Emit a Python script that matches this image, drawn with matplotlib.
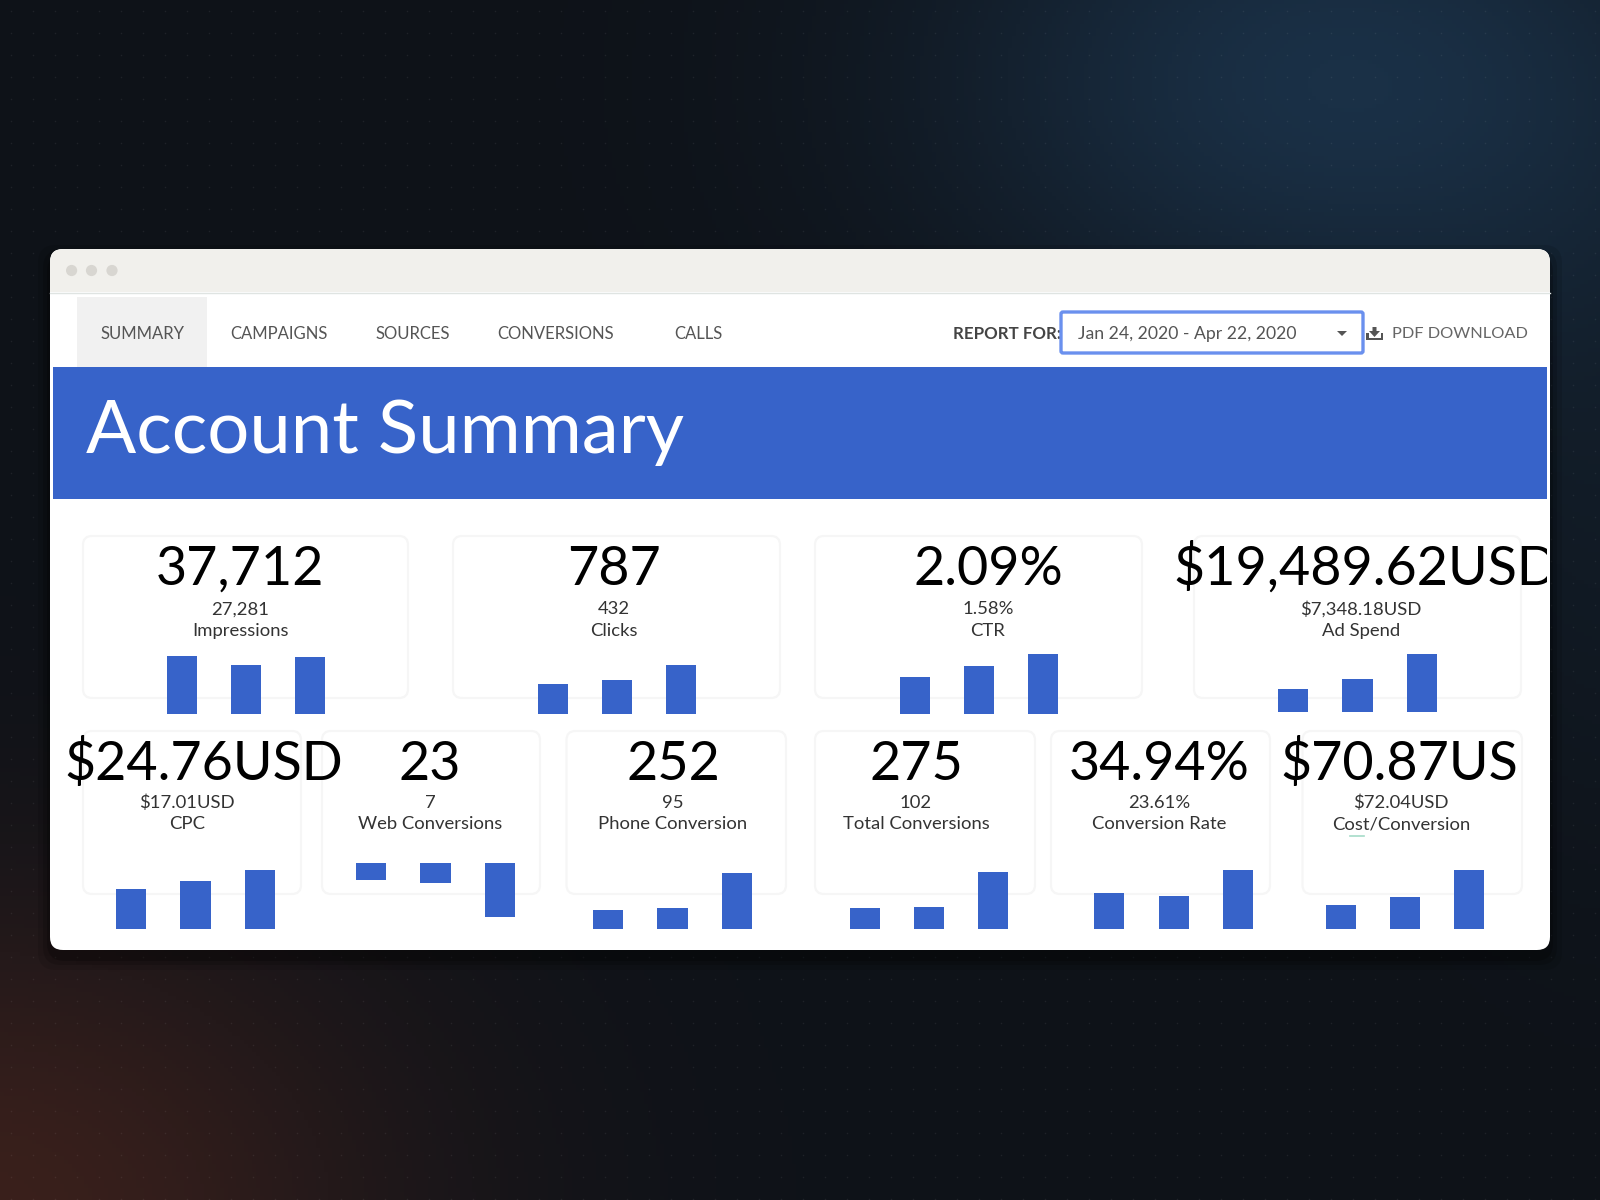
import numpy as np
import matplotlib
matplotlib.use('Agg')
import matplotlib.pyplot as plt
from matplotlib.patches import Rectangle, FancyBboxPatch, Circle, Polygon

plt.rcParams['font.family'] = ['Lato', 'DejaVu Sans']

W, H = 1600, 1200
BLUE = '#3763c9'

# KPI values, row by row
big_values = ['37,712', '787', '2.09%', '$19,489.62USD',
              '$24.76USD', '23', '252', '275', '34.94%', '$70.87US']
small_values = ['27,281', '432', '1.58%', '$7,348.18USD',
                '$17.01USD', '7', '95', '102', '23.61%', '$72.04USD']
kpi_names = ['Impressions', 'Clicks', 'CTR', 'Ad Spend',
             'CPC', 'Web Conversions', 'Phone Conversion', 'Total Conversions',
             'Conversion Rate', 'Cost/Conversion']

# bar heights
bars_impressions = [58.3, 49.3, 57.3]
bars_clicks = [30, 34, 49.3]
bars_ctr = [37.7, 48.3, 60.3]
bars_adspend = [22.7, 32.3, 57.7]
bars_cpc = [39.3, 47.3, 58.3]
bars_web = [17, 20, 53.3]
bars_phone = [18.3, 20.3, 55.3]
bars_total = [21, 22, 57]
bars_rate = [35.3, 33, 58.3]
bars_cost = [23.7, 32, 58.3]

nav_labels = ['SUMMARY', 'CAMPAIGNS', 'SOURCES', 'CONVERSIONS', 'CALLS']

fig = plt.figure(figsize=(16, 12), dpi=100)
ax = fig.add_axes([0, 0, 1, 1])
ax.set_xlim(0, W)
ax.set_ylim(H, 0)
ax.axis('off')

# background glow
yy, xx = np.mgrid[0:H:300j, 0:W:400j]
base = np.array([14, 18, 24]) / 255
img = np.ones((300, 400, 3)) * base
blue_glow = np.exp(-(((xx - 1340) / 400) ** 2 + ((yy - 80) / 270) ** 2))[..., None]
side_glow = np.exp(-(((xx - 1620) / 200) ** 2 + ((yy - 500) / 350) ** 2))[..., None]
red_glow = np.exp(-(((xx + 20) / 420) ** 2 + ((yy - 1220) / 320) ** 2))[..., None]
img = img + blue_glow * np.array([12, 30, 46]) / 255 + side_glow * np.array([3, 8, 12]) / 255
img = img + red_glow * np.array([44, 14, 4]) / 255
ax.imshow(np.clip(img, 0, 1), extent=[0, W, H, 0], aspect='auto', zorder=0)

# dot grid
gx, gy = np.meshgrid(np.arange(11, W, 22), np.arange(11, H, 22))
ax.scatter(gx.ravel(), gy.ravel(), s=1.2, color='white', alpha=0.07, linewidths=0, zorder=0.5)

# window
for grow, a in [(12, 0.10), (7, 0.15), (3, 0.2)]:
    ax.add_patch(FancyBboxPatch((50 - grow, 249 - grow + 8), 1500 + 2 * grow, 701 + 2 * grow,
                                boxstyle='round,pad=0,rounding_size=18', fc='black', ec='none', alpha=a, zorder=1))
window = FancyBboxPatch((50, 249), 1500, 701, boxstyle='round,pad=0,rounding_size=13',
                        fc='white', ec='none', zorder=2)
ax.add_patch(window)
bar = Rectangle((50, 249), 1500, 43, fc='#f1f0ec', ec='none', zorder=3)
ax.add_patch(bar)
bar.set_clip_path(window)
ax.plot([50, 1550], [292.5, 292.5], color='#dfe4e2', lw=1, zorder=3)
for cx in [71.6, 91.5, 112]:
    ax.add_patch(Circle((cx, 270.5), 5.6, fc='#d8d6d1', ec='none', zorder=4))

# nav bar
ax.add_patch(Rectangle((77, 297), 130, 70, fc='#f1f1f1', ec='none', zorder=3))
nav_x = [142.5, 279, 412.5, 556, 698]
for x, label in zip(nav_x, nav_labels):
    ax.text(x, 334, label, ha='center', va='center', fontsize=12, color='#555555', zorder=5)
ax.text(1007, 334, 'REPORT FOR:', ha='center', va='center', fontsize=12.2, fontweight='bold',
        color='#444444', zorder=5)
ax.add_patch(FancyBboxPatch((1061, 312), 302, 41, boxstyle='round,pad=0,rounding_size=2',
                            fc='white', ec='#6a90ee', lw=2.4, zorder=5))
ax.text(1078, 334, 'Jan 24, 2020 - Apr 22, 2020', ha='left', va='center', fontsize=12.7,
        color='#555555', zorder=6)
ax.add_patch(Polygon([[1337, 331], [1347, 331], [1342, 336]], fc='#555555', ec='none', zorder=6))
# download icon
ax.add_patch(Polygon([[1366, 333], [1368.5, 333], [1368.5, 338], [1380.5, 338], [1380.5, 333], [1383, 333],
                      [1383, 340], [1366, 340]], fc='#555555', ec='none', zorder=6))
ax.add_patch(Polygon([[1372.5, 327], [1376.5, 327], [1376.5, 331], [1380, 331], [1374.5, 337], [1369, 331], [1372.5, 331]],
                     fc='#555555', ec='none', zorder=6))
ax.text(1392, 334, 'PDF DOWNLOAD', ha='left', va='center', fontsize=11.8, color='#666666', zorder=5)

# banner
ax.add_patch(Rectangle((53, 367), 1494, 132, fc=BLUE, ec='none', zorder=3))
ax.text(86, 433, 'Account Summary', ha='left', va='center', fontsize=53.5, color='white', zorder=5)

# cards
card_boxes = [(83, 536, 325, 162), (453, 536, 327, 162), (815, 536, 327, 162), (1194, 536, 327, 162),
              (83, 731, 218, 163), (322, 731, 218, 163), (566.5, 731, 219.5, 163),
              (815, 731, 220, 163), (1051, 731, 219, 163), (1302.5, 731, 219.5, 163)]
for x, y, w, h in card_boxes:
    ax.add_patch(FancyBboxPatch((x, y), w, h, boxstyle='round,pad=0,rounding_size=9',
                                fc='white', ec='#f6f6f6', lw=1.6, zorder=3))

clip = Rectangle((53, 500), 1494, 450, transform=ax.transData)
big_x = [240, 614, 988, 1366, 204, 430, 673, 916, 1159, 1399]
label_x = [240, 614, 988, 1361, 187, 430, 673, 916, 1159, 1401]
for i in range(10):
    row2 = i >= 4
    t = ax.text(big_x[i], 780 if row2 else 585, big_values[i], ha='center', va='baseline',
                fontsize=38.8, color='black', zorder=6)
    t.set_clip_on(True)
    t.set_clip_path(clip)
    ax.text(label_x[i], 808 if row2 else 614.4, small_values[i], ha='center', va='baseline',
            fontsize=13.3, color='#333333', zorder=6)
    ax.text(label_x[i], 829 if row2 else 636, kpi_names[i], ha='center', va='baseline',
            fontsize=13.3, color='#333333', zorder=6)

ax.plot([1350, 1364], [836, 836], color='#a5dcc8', lw=1.2, zorder=6)

# mini charts, middle bar centre and baseline in pixels
charts = [(bars_impressions, 246, 714.3, False), (bars_clicks, 617, 714.3, False),
          (bars_ctr, 979, 714.3, False), (bars_adspend, 1357.5, 711.7, False),
          (bars_cpc, 195.5, 928.7, False), (bars_web, 435.5, 863.3, True),
          (bars_phone, 672.5, 928.7, False), (bars_total, 929, 928.7, False),
          (bars_rate, 1173.7, 928.7, False), (bars_cost, 1405, 928.7, False)]
for values, center, base_y, hanging in charts:
    axw, axh = 193, 62
    top = base_y if hanging else base_y - axh
    mini = fig.add_axes([(center - axw / 2) / W, 1 - (top + axh) / H, axw / W, axh / H])
    mini.bar([0, 1, 2], values, width=0.47, color=BLUE)
    mini.set_xlim(-0.5, 2.5)
    if hanging:
        mini.set_ylim(axh, 0)
    else:
        mini.set_ylim(0, axh)
    mini.axis('off')
    mini.patch.set_alpha(0)

fig.savefig('out.png', dpi=100)
